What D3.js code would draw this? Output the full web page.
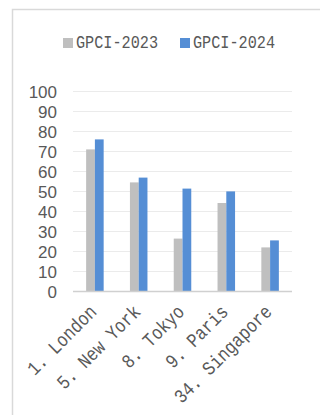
<!DOCTYPE html>
<html>
<head>
<meta charset="utf-8">
<script src="https://cdn.jsdelivr.net/npm/d3@7"></script>
<style>
  body { margin: 0; background: #fff; }
  svg { display: block; }
  .tick text { fill: #595959; }
</style>
</head>
<body>
<div id="chart"></div>
<script>
// data
var cities = ["1. London", "5. New York", "8. Tokyo", "9. Paris", "34. Singapore"];
var gpci2023 = [70.8, 54.3, 26.2, 44, 21.8];
var gpci2024 = [75.8, 56.7, 51.2, 49.8, 25.3];
var seriesNames = ["GPCI-2023", "GPCI-2024"];
var seriesColors = ["#bfbfbf", "#558ed5"];
var yTicks = [0, 10, 20, 30, 40, 50, 60, 70, 80, 90, 100];

var W = 320, H = 415;
var margin = {top: 91, left: 73, right: 28, bottom: 124};

var svg = d3.select("#chart").append("svg")
	.attr("width", W)
	.attr("height", H);

// chart area frame (cut off at right and bottom)
svg.append("path")
	.attr("d", "M12.5," + H + "V9.5H" + W)
	.attr("fill", "none")
	.attr("stroke", "#d9d9d9")
	.attr("stroke-width", 1.5);

var plotW = W - margin.left - margin.right;
var plotH = H - margin.top - margin.bottom;

var x = d3.scaleBand().domain(cities).range([0, plotW]);
var x1 = d3.scaleBand().domain(seriesNames).range([x.bandwidth()*0.3, x.bandwidth()*0.7]);
var y = d3.scaleLinear().domain([0, 100]).range([plotH, 0]);

var chart = svg.append("g")
	.attr("transform", "translate(" + margin.left + "," + margin.top + ")");

// gridlines
chart.selectAll(".grid")
	.data(yTicks.slice(1)).enter()
	.append("line")
	.attr("class", "grid")
	.attr("x1", 0)
	.attr("x2", plotW)
	.attr("y1", function(d) { return Math.round(y(d)) + 0.5; })
	.attr("y2", function(d) { return Math.round(y(d)) + 0.5; })
	.attr("stroke", "#ebebeb")
	.attr("stroke-width", 1.2);

// y axis labels only
var yAxis = d3.axisLeft(y).tickValues(yTicks).tickSize(0).tickPadding(16);
var yg = chart.append("g").call(yAxis);
yg.select(".domain").remove();
yg.selectAll("text")
	.attr("font-family", "'Liberation Sans', Arial, sans-serif")
	.attr("font-size", 17)
	.attr("dy", "0.36em");

// bars
var series = [gpci2023, gpci2024];
series.forEach(function(vals, s) {
	chart.selectAll(".bar" + s)
		.data(vals).enter()
		.append("rect")
		.attr("class", "bar" + s)
		.attr("x", function(d, i) { return x(cities[i]) + x1(seriesNames[s]); })
		.attr("y", function(d) { return y(d); })
		.attr("width", x1.bandwidth())
		.attr("height", function(d) { return y(0) - y(d); })
		.attr("fill", seriesColors[s]);
});

// x axis line
chart.append("line")
	.attr("x1", 0)
	.attr("x2", plotW)
	.attr("y1", y(0) + 0.5)
	.attr("y2", y(0) + 0.5)
	.attr("stroke", "#d0d0d0")
	.attr("stroke-width", 1.5);

// rotated category labels
chart.selectAll(".xlab")
	.data(cities).enter()
	.append("text")
	.attr("class", "xlab")
	.attr("transform", function(d) {
		return "translate(" + (x(d) + x.bandwidth()/2 + 3) + "," + (y(0) + 22) + ") rotate(-45) scale(0.85,1)";
	})
	.attr("text-anchor", "end")
	.attr("font-family", "'Liberation Mono', 'DejaVu Sans Mono', monospace")
	.attr("font-size", 19.5)
	.attr("fill", "#595959")
	.text(function(d) { return d; });

// legend
var legend = svg.append("g").attr("transform", "translate(63,38)");
var lx = [0, 117];
seriesNames.forEach(function(name, s) {
	var g = legend.append("g").attr("transform", "translate(" + lx[s] + ",0)");
	g.append("rect")
		.attr("width", 10)
		.attr("height", 10)
		.attr("fill", seriesColors[s]);
	g.append("text")
		.attr("transform", "translate(13,10) scale(0.8,1)")
		.attr("font-family", "'Liberation Mono', 'DejaVu Sans Mono', monospace")
		.attr("font-size", 19)
		.attr("fill", "#595959")
		.text(name);
});
</script>
</body>
</html>
